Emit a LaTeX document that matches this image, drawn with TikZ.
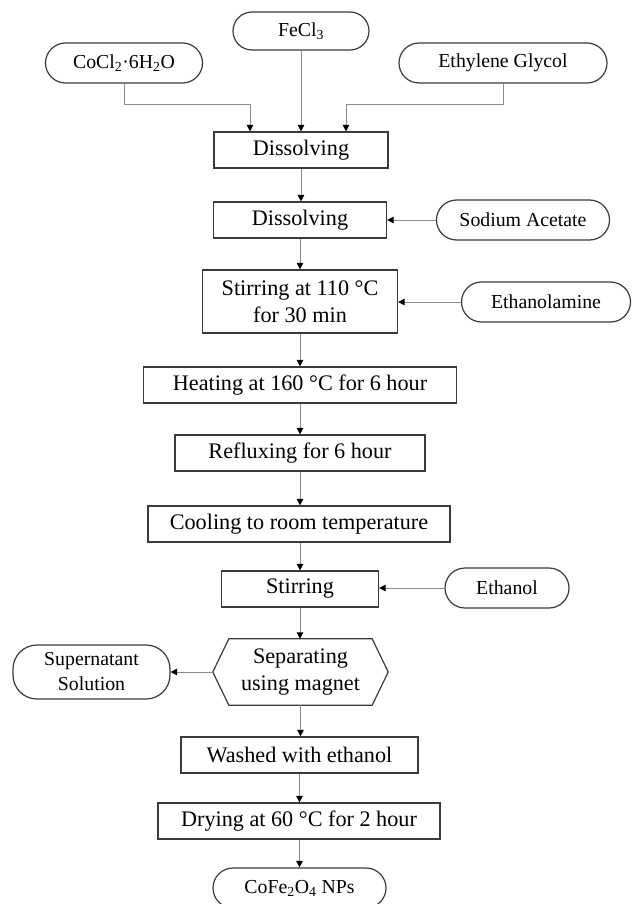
\documentclass[tikz,border=0pt]{standalone}
\usepackage{fontspec}
\setmainfont{Liberation Serif}
\usetikzlibrary{arrows.meta,calc}
\definecolor{connc}{HTML}{8C8C8C}
\definecolor{edgec}{HTML}{3A3A3A}
\tikzset{
  boxfont/.style={font=\fontsize{22.2pt}{26.5pt}\selectfont},
  ovalfont/.style={font=\fontsize{19.8pt}{25pt}\selectfont},
  stepbox/.style={draw=edgec, line width=1.2pt, rectangle, boxfont, align=center, inner sep=0pt, minimum height=36pt},
  ovalbox/.style={draw=edgec, line width=1.2pt, rectangle, rounded corners=20pt, ovalfont, align=center, inner sep=0pt, minimum height=40pt},
  hexbox/.style={rectangle, boxfont, align=center, inner sep=0pt, minimum width=175pt, minimum height=66pt},
  hexline/.style={draw=edgec, line width=1.2pt, line join=miter},
  conn/.style={draw=connc, line width=1pt, -{Triangle[width=6.5pt,length=6.5pt,color=black]}},
}
\begin{document}
\begin{tikzpicture}[x=1pt,y=1pt]
\useasboundingbox (0,0) rectangle (632,-904);
% sources
\node[ovalbox, rounded corners=19pt, minimum width=136pt, minimum height=38pt] (fe) at (301,-31) {FeCl\textsubscript{3}};
\node[ovalbox, minimum width=157pt] (co) at (124,-63) {CoCl\textsubscript{2}·6H\textsubscript{2}O};
\node[ovalbox, minimum width=208pt] (eg) at (503,-63) {Ethylene Glycol};
% main steps
\node[stepbox, minimum width=174pt] (d1) at (301,-150) {Dissolving};
\node[stepbox, minimum width=173pt] (d2) at (300,-220) {Dissolving};
\node[ovalbox, minimum width=173pt] (sa) at (523,-220) {Sodium Acetate};
\node[stepbox, minimum width=195pt, minimum height=63pt] (st1) at (300,-301.5) {Stirring at 110 °C\\for 30 min};
\node[ovalbox, minimum width=169pt] (ea) at (546,-302) {Ethanolamine};
\node[stepbox, minimum width=313pt] (ht) at (300,-385) {Heating at 160 °C for 6 hour};
\node[stepbox, minimum width=250pt] (rf) at (300,-453) {Refluxing for 6 hour};
\node[stepbox, minimum width=302pt] (cl) at (299,-524) {Cooling to room temperature};
\node[stepbox, minimum width=157pt] (st2) at (300,-589) {Stirring};
\node[ovalbox, minimum width=124pt] (et) at (507,-588) {Ethanol};
\node[hexbox] (sep) at (300.5,-672) {Separating\\using magnet};
\draw[hexline] (sep.west) -- ($(sep.north west)+(16,0)$) -- ($(sep.north east)+(-16,0)$) -- (sep.east) -- ($(sep.south east)+(-16,0)$) -- ($(sep.south west)+(16,0)$) -- cycle;
\node[ovalbox, rounded corners=24pt, minimum width=157pt, minimum height=54pt] (sup) at (91.5,-672) {Supernatant\\Solution};
\node[stepbox, minimum width=237pt] (wa) at (299.5,-755) {Washed with ethanol};
\node[stepbox, minimum width=282pt] (dr) at (299,-821) {Drying at 60 °C for 2 hour};
\node[ovalbox, minimum width=173pt] (np) at (299.5,-888) {CoFe\textsubscript{2}O\textsubscript{4} NPs};
% connectors
\coordinate (jl) at (250,-105);
\coordinate (jr) at (346,-105);
\draw[conn] (co.south) |- (jl) -- (jl |- d1.north);
\draw[conn] (fe.south) -- (fe.south |- d1.north);
\draw[conn] (eg.south) |- (jr) -- (jr |- d1.north);
\draw[conn] (d1.south) -- (d1.south |- d2.north);
\draw[conn] (sa.west) -- (d2.east);
\draw[conn] (d2.south) -- (d2.south |- st1.north);
\draw[conn] (ea.west) -- (ea.west -| st1.east);
\draw[conn] (st1.south) -- (st1.south |- ht.north);
\draw[conn] (ht.south) -- (ht.south |- rf.north);
\draw[conn] (rf.south) -- (rf.south |- cl.north);
\draw[conn] (rf.south |- cl.south) -- (rf.south |- st2.north);
\draw[conn] (et.west) -- (et.west -| st2.east);
\draw[conn] (st2.south) -- (st2.south |- sep.north);
\draw[conn] (sep.west) -- (sep.west -| sup.east);
\draw[conn] (sep.south) -- (sep.south |- wa.north);
\draw[conn] (wa.south) -- (wa.south |- dr.north);
\draw[conn] (wa.south |- dr.south) -- (wa.south |- np.north);
\end{tikzpicture}
\end{document}
